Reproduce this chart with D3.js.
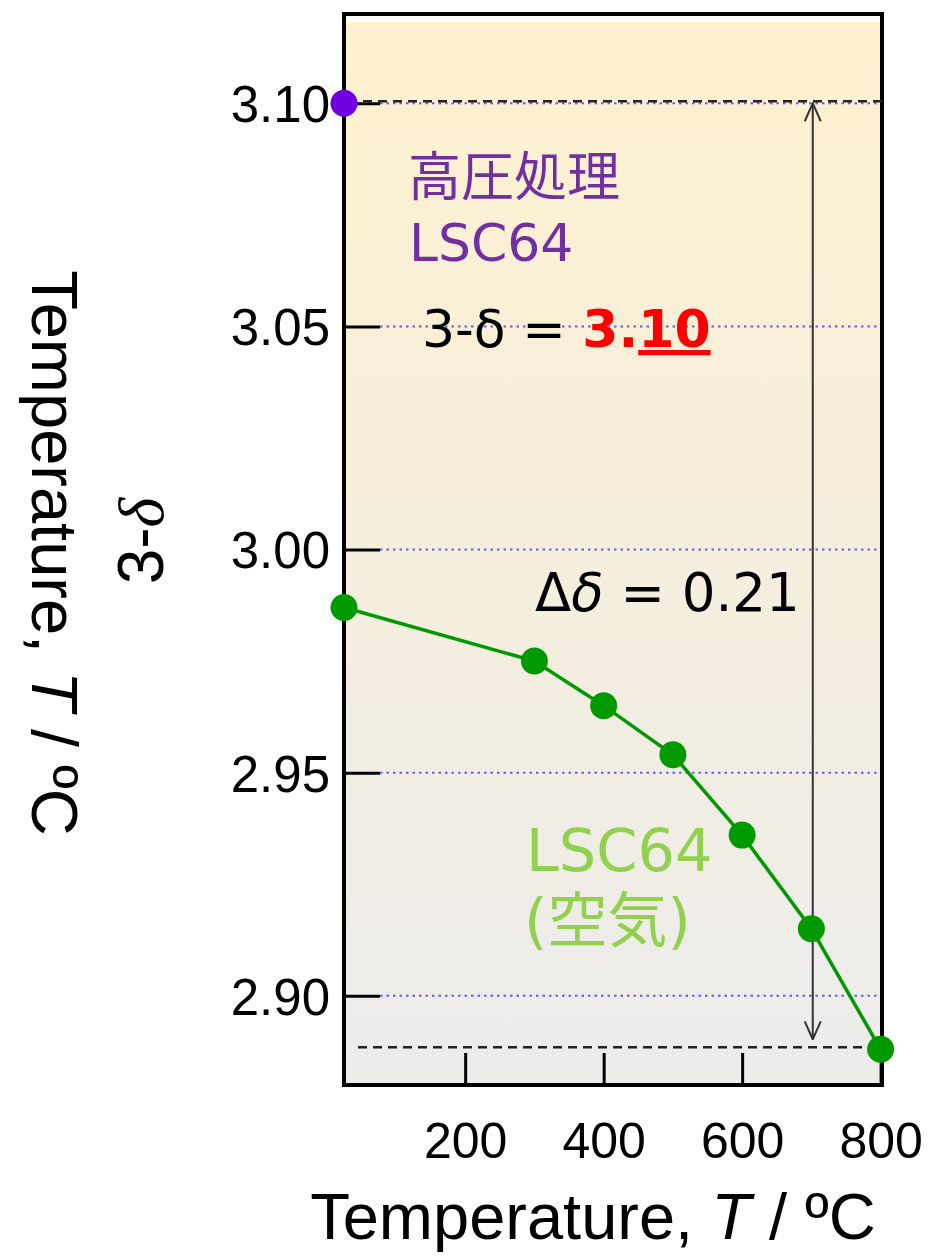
<!DOCTYPE html>
<html>
<head>
<meta charset="utf-8">
<script src="https://cdn.jsdelivr.net/npm/d3@7"></script>
<style>
  body { margin: 0; background: #fff; }
  text { font-family: "Liberation Sans", Arial, sans-serif; }
  .jp { font-family: "DejaVu Sans", "Noto Sans CJK JP", sans-serif; }
</style>
</head>
<body>
<div id="chart"></div>
<script>
// Data: 3-delta vs temperature for LSC64
const airTemps = [25, 300, 400, 500, 600, 700, 800];
const airDelta = [2.987, 2.975, 2.965, 2.954, 2.936, 2.915, 2.888];
const hpTemps = [25];
const hpDelta = [3.10];
const xTicks = [200, 400, 600, 800];
const yTicks = [2.90, 2.95, 3.00, 3.05, 3.10];

const width = 936;
const height = 1257;
const margin = { top: 14, right: 54, bottom: 172, left: 344 };
const innerWidth = width - margin.left - margin.right;
const innerHeight = height - margin.top - margin.bottom;

const svg = d3.select('#chart')
    .append('svg')
    .attr('width', width)
    .attr('height', height);

// background gradient
const defs = svg.append('defs');
const grad = defs.append('linearGradient')
    .attr('id', 'bg')
    .attr('x1', 0).attr('y1', 0).attr('x2', 0).attr('y2', 1);
grad.append('stop').attr('offset', '0%').attr('stop-color', '#fff1cf');
grad.append('stop').attr('offset', '100%').attr('stop-color', '#ececec');

defs.append('marker')
    .attr('id', 'arrow')
    .attr('viewBox', '0 0 20 20')
    .attr('refX', 19).attr('refY', 10)
    .attr('markerWidth', 20).attr('markerHeight', 20)
    .attr('markerUnits', 'userSpaceOnUse')
    .attr('orient', 'auto-start-reverse')
    .append('path')
    .attr('d', 'M1,2 L19,10 L1,18')
    .style('fill', 'none')
    .style('stroke', '#333')
    .style('stroke-width', 2);

const g = svg.append('g')
    .attr('transform', `translate(${margin.left},${margin.top})`);

// scales
const xScale = d3.scaleLinear()
    .domain([25, 802])
    .range([0, innerWidth]);

const yScale = d3.scaleLinear()
    .domain([2.88, 3.12])
    .range([innerHeight, 0]);

g.append('rect')
    .attr('x', 0).attr('y', 8)
    .attr('width', innerWidth)
    .attr('height', innerHeight - 8)
    .style('fill', 'url(#bg)');

// dotted grid lines
g.append('g')
    .selectAll('line')
    .data(yTicks)
    .join('line')
    .attr('x1', 36)
    .attr('x2', innerWidth)
    .attr('y1', d => yScale(d))
    .attr('y2', d => yScale(d))
    .style('stroke', '#5c5cff')
    .style('stroke-width', 2)
    .style('stroke-dasharray', '2.5,4');

// axes (ticks inward)
const yAxis = d3.axisRight(yScale)
    .tickValues(yTicks)
    .tickSize(36)
    .tickFormat(d3.format('.2f'));

const yAxisG = g.append('g').call(yAxis);
yAxisG.select('.domain').remove();
yAxisG.selectAll('.tick line').style('stroke', '#000').style('stroke-width', 3);
yAxisG.selectAll('.tick text')
    .attr('x', -14)
    .attr('dy', '0.36em')
    .attr('text-anchor', 'end')
    .style('font-size', '51px')
    .style('font-family', '"Liberation Sans", Arial, sans-serif')
    .style('fill', '#000');

const xAxis = d3.axisTop(xScale)
    .tickValues(xTicks)
    .tickSize(32)
    .tickFormat(d3.format('d'));

const xAxisG = g.append('g')
    .attr('transform', `translate(0,${innerHeight})`)
    .call(xAxis);
xAxisG.select('.domain').remove();
xAxisG.selectAll('.tick line').style('stroke', '#000').style('stroke-width', 3);
xAxisG.selectAll('.tick text')
    .attr('y', 73)
    .attr('dy', 0)
    .style('font-size', '50px')
    .style('font-family', '"Liberation Sans", Arial, sans-serif')
    .style('fill', '#000');

// frame
g.append('rect')
    .attr('width', innerWidth)
    .attr('height', innerHeight)
    .style('fill', 'none')
    .style('stroke', '#000')
    .style('stroke-width', 4);

// dashed reference lines at max and min
const refLevels = [d3.max(hpDelta), d3.min(airDelta)];
g.append('g')
    .selectAll('line')
    .data(refLevels)
    .join('line')
    .attr('x1', (d, i) => i === 0 ? 4 : 14)
    .attr('x2', innerWidth)
    .attr('y1', d => yScale(d) - 2)
    .attr('y2', d => yScale(d) - 2)
    .style('stroke', '#222')
    .style('stroke-width', 2.5)
    .style('stroke-dasharray', '9,6');

// double arrow for delta-delta
g.append('line')
    .attr('x1', xScale(702))
    .attr('x2', xScale(702))
    .attr('y1', yScale(refLevels[0]))
    .attr('y2', yScale(refLevels[1]) - 10)
    .style('stroke', '#333')
    .style('stroke-width', 2)
    .attr('marker-start', 'url(#arrow)')
    .attr('marker-end', 'url(#arrow)');

// air series
const airData = airTemps.map((t, i) => ({ t, v: airDelta[i] }));
const line = d3.line()
    .x(d => xScale(d.t))
    .y(d => yScale(d.v));

g.append('path')
    .datum(airData)
    .attr('d', line)
    .style('fill', 'none')
    .style('stroke', '#009900')
    .style('stroke-width', 3.5);

g.append('g')
    .selectAll('circle')
    .data(airData)
    .join('circle')
    .attr('cx', d => xScale(d.t))
    .attr('cy', d => yScale(d.v))
    .attr('r', 13.5)
    .style('fill', '#009900');

// high-pressure point
g.append('g')
    .selectAll('circle')
    .data(hpTemps.map((t, i) => ({ t, v: hpDelta[i] })))
    .join('circle')
    .attr('cx', d => xScale(d.t))
    .attr('cy', d => yScale(d.v))
    .attr('r', 13.5)
    .style('fill', '#7000e0');

// annotations
g.append('text').attr('class', 'jp')
    .attr('x', 64).attr('y', 182)
    .style('font-size', '53px').style('fill', '#7030a0')
    .text('高圧処理');
g.append('text').attr('class', 'jp')
    .attr('x', 65).attr('y', 247)
    .style('font-size', '52px').style('fill', '#7030a0')
    .text('LSC64');

const eq = g.append('text').attr('class', 'jp')
    .attr('x', 78).attr('y', 333)
    .style('font-size', '52px').style('fill', '#000');
eq.append('tspan').text('3-δ = ');
eq.append('tspan').text('3.').style('fill', '#ff0000').style('font-weight', 'bold');
eq.append('tspan').text('10').style('fill', '#ff0000').style('font-weight', 'bold')
    .style('text-decoration', 'underline');

const dd = g.append('text').attr('class', 'jp')
    .attr('x', 191).attr('y', 597)
    .style('font-size', '53px').style('fill', '#000');
dd.append('tspan').text('Δ');
dd.append('tspan').text('δ').style('font-style', 'italic');
dd.append('tspan').text(' = 0.21');

g.append('text').attr('class', 'jp')
    .attr('x', 182).attr('y', 857)
    .style('font-size', '59px').style('fill', '#92d050')
    .text('LSC64');
g.append('text').attr('class', 'jp')
    .attr('x', 180).attr('y', 928)
    .style('font-size', '60px').style('fill', '#92d050')
    .text('(空気)');

// axis titles
const xt = svg.append('text')
    .attr('x', 593).attr('y', 1239)
    .attr('text-anchor', 'middle')
    .style('font-size', '65px');
xt.append('tspan').text('Temperature, ');
xt.append('tspan').text('T').style('font-style', 'italic');
xt.append('tspan').text(' / ºC');

const yt = svg.append('text')
    .attr('transform', 'translate(32,553) rotate(90)')
    .attr('text-anchor', 'middle')
    .style('font-size', '65px');
yt.append('tspan').text('Temperature, ');
yt.append('tspan').text('T').style('font-style', 'italic');
yt.append('tspan').text(' / ºC');

const yd = svg.append('text')
    .attr('transform', 'translate(163,541) rotate(-90)')
    .attr('text-anchor', 'middle')
    .style('font-size', '64px');
yd.append('tspan').text('3-');
yd.append('tspan').text('δ').style('font-style', 'italic')
    .style('font-family', '"Liberation Serif", serif');
</script>
</body>
</html>
